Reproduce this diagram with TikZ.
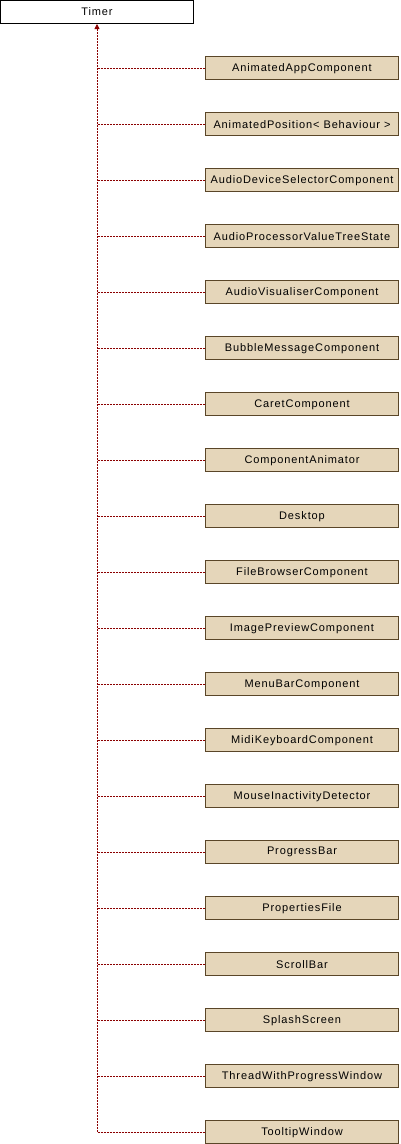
\documentclass[tikz,border=0pt]{standalone}
\usepackage{fontspec}
\setmainfont{Liberation Sans}[LetterSpace=8]
\usetikzlibrary{arrows.meta}
\definecolor{boxfill}{RGB}{229,214,186}
\definecolor{boxdraw}{RGB}{90,70,40}
\definecolor{linkred}{RGB}{139,0,0}
\begin{document}
\begin{tikzpicture}[x=1pt,y=1pt,
  base/.style={draw=black,fill=white,line width=1pt,minimum width=193pt,minimum height=23pt,inner sep=0pt,font=\fontsize{11}{13}\selectfont},
  derived/.style={draw=boxdraw,fill=boxfill,line width=1pt,minimum width=193pt,minimum height=23pt,inner sep=0pt,font=\fontsize{11}{13}\selectfont},
  link/.style={draw=linkred,line width=0.8pt,dash pattern=on 2pt off 1pt}]
\useasboundingbox (0,0) rectangle (400,-1144);
\node[base] (timer) at (97,-12) {Timer};
\foreach \n/\t [count=\i from 0] in {
 c1/AnimatedAppComponent,
 c2/{AnimatedPosition< Behaviour >},
 c3/AudioDeviceSelectorComponent,
 c4/AudioProcessorValueTreeState,
 c5/AudioVisualiserComponent,
 c6/BubbleMessageComponent,
 c7/CaretComponent,
 c8/ComponentAnimator,
 c9/Desktop,
 c10/FileBrowserComponent,
 c11/ImagePreviewComponent,
 c12/MenuBarComponent,
 c13/MidiKeyboardComponent,
 c14/MouseInactivityDetector,
 c15/ProgressBar,
 c16/PropertiesFile,
 c17/ScrollBar,
 c18/SplashScreen,
 c19/ThreadWithProgressWindow,
 c20/TooltipWindow}{
  \node[derived] (\n) at (302,{-68.3-56*\i}) {\t};
}
\draw[link,{Triangle[width=5pt,length=5pt]}-] (timer.south) |- (c20.west);
\foreach \n in {c1,c2,c3,c4,c5,c6,c7,c8,c9,c10,c11,c12,c13,c14,c15,c16,c17,c18,c19}{
  \draw[link] (\n.west) -- (timer.south |- \n.west);
}
\end{tikzpicture}
\end{document}
